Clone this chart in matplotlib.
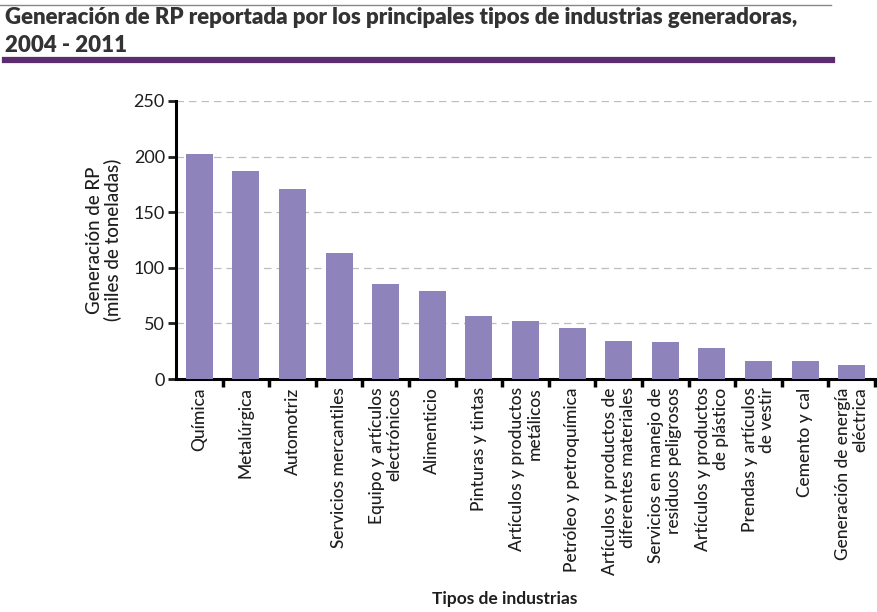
import numpy as np
import matplotlib
matplotlib.use('Agg')
import matplotlib.pyplot as plt
from matplotlib.lines import Line2D
from matplotlib.ticker import FixedLocator

industrias = ['Química', 'Metalúrgica', 'Automotriz', 'Servicios mercantiles',
              'Equipo y artículos\nelectrónicos', 'Alimenticio', 'Pinturas y tintas',
              'Artículos y productos\nmetálicos', 'Petróleo y petroquímica',
              'Artículos y productos de\ndiferentes materiales',
              'Servicios en manejo de\nresiduos peligrosos',
              'Artículos y productos\nde plástico', 'Prendas y artículos\nde vestir',
              'Cemento y cal', 'Generación de energía\neléctrica']
generacion = [202, 187, 171, 113, 85, 79, 57, 52, 46, 34, 33, 28, 16, 16, 13]
yticks = [0, 50, 100, 150, 200, 250]

barColor = '#8e83bb'
purple = '#5c2d6e'
textColor = '#1e1e1e'
fontName = ['Lato', 'DejaVu Sans']

plt.rcParams['font.family'] = fontName

fig = plt.figure(figsize=(8.77, 6.12), dpi=100)
ax = fig.add_axes([0.2007, 0.3807, 0.797, 0.4543])

x = np.arange(len(industrias))
ax.bar(x, generacion, width=0.58, color=barColor, zorder=3)

ax.set_xlim(-0.5, len(industrias) - 0.5)
ax.set_ylim(0, 250)
ax.set_yticks(yticks)
ax.tick_params(axis='y', labelsize=13, length=6, width=2, colors=textColor, pad=2)
ax.yaxis.grid(True, linestyle=(0, (6, 4)), color='#bdbdbd', linewidth=0.9, zorder=0)

ax.set_xticks(x)
ax.set_xticklabels(industrias, rotation=90, ha='center', va='top',
                   multialignment='right', fontsize=12.5, color=textColor,
                   linespacing=1.15, fontweight='medium')
ax.tick_params(axis='x', which='major', length=0, pad=6)
ax.xaxis.set_minor_locator(FixedLocator(np.arange(len(industrias)) + 0.5))
ax.tick_params(axis='x', which='minor', length=6, width=2.5, color='black')

for s in ['top', 'right']:
    ax.spines[s].set_visible(False)
for s in ['left', 'bottom']:
    ax.spines[s].set_linewidth(2.2)

ax.set_ylabel('Generación de RP\n(miles de toneladas)', fontsize=13.5, color=textColor,
              labelpad=8, linespacing=1.1, fontweight='medium')
fig.text(0.576, 0.022, 'Tipos de industrias', ha='center', va='center',
         fontsize=12.5, fontweight='bold', color=textColor)

# title block
fig.text(0.006, 0.971, 'Generación de RP reportada por los principales tipos de industrias generadoras,',
         ha='left', va='center', fontsize=16, fontweight='heavy', color='#333333')
fig.text(0.006, 0.925, '2004 - 2011',
         ha='left', va='center', fontsize=16, fontweight='heavy', color='#333333')
fig.add_artist(Line2D([0, 0.947], [0.992, 0.992], color='#888888', linewidth=1,
                      transform=fig.transFigure))
fig.add_artist(Line2D([0.006, 0.949], [0.902, 0.902], color=purple, linewidth=4.5,
                      transform=fig.transFigure))

fig.savefig('out.png', dpi=100)
